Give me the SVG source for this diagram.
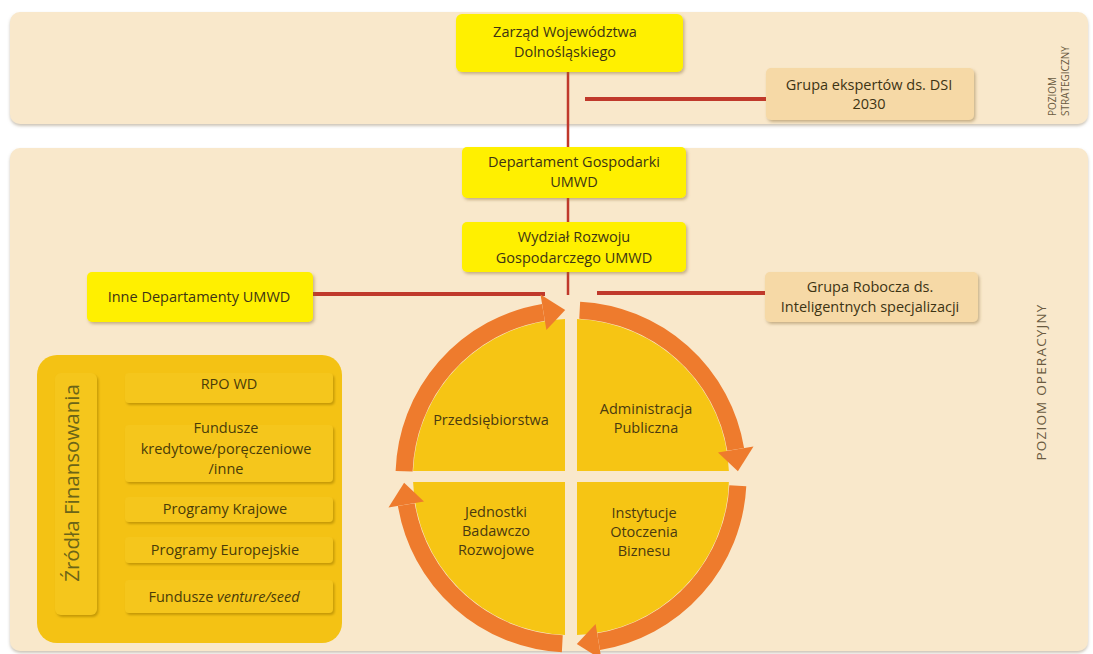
<svg xmlns="http://www.w3.org/2000/svg" width="1093" height="654" viewBox="0 0 1093 654">
<defs>
<filter id="sh" x="-10%" y="-10%" width="125%" height="130%">
<feDropShadow dx="1.5" dy="2" stdDeviation="1.5" flood-color="#8a6a30" flood-opacity="0.45"/>
</filter>
<filter id="shr" x="-10%" y="-20%" width="125%" height="150%">
<feDropShadow dx="1.5" dy="2" stdDeviation="1" flood-color="#b08800" flood-opacity="0.7"/>
</filter>
<filter id="psh" x="-2%" y="-5%" width="104%" height="110%">
<feDropShadow dx="0" dy="2" stdDeviation="1.5" flood-color="#9a8a70" flood-opacity="0.5"/>
</filter>
</defs>
<style>
.panel{fill:#f9e8cb;}
.ynode{fill:#fff000;filter:url(#sh);}
.bnode{fill:#f6d9a6;filter:url(#sh);}
.t{font-family:"Open Sans","Liberation Sans",sans-serif;font-size:14.5px;font-weight:500;fill:#3d3414;text-anchor:middle;}
.q{font-family:"Open Sans","Liberation Sans",sans-serif;font-size:14.5px;font-weight:500;fill:#4a3a10;text-anchor:middle;}
.r{font-family:"Open Sans","Liberation Sans",sans-serif;font-size:14.5px;font-weight:500;fill:#4a3c08;text-anchor:middle;}
.row{fill:#f5c61c;filter:url(#shr);}
.lvl{font-family:"Open Sans","Liberation Sans",sans-serif;fill:#6a5a40;}
.ln{stroke:#c0392b;fill:none;}
.ring{stroke:#ee7b2d;stroke-width:17;fill:none;}
.ah{fill:#ee7b2d;}
.quad{fill:#f6c514;}
</style>
<rect width="1093" height="654" fill="#ffffff"/>
<g id="panels">
<rect class="panel" x="10" y="12" width="1078" height="112" rx="10" filter="url(#psh)"/>
<rect class="panel" x="10" y="148" width="1078" height="503" rx="10" filter="url(#psh)"/>
<text class="lvl" font-size="10" text-anchor="start" transform="translate(1056,116) rotate(-90)">POZIOM</text>
<text class="lvl" font-size="10" text-anchor="start" transform="translate(1069,116) rotate(-90)">STRATEGICZNY</text>
<text class="lvl" font-size="13.5" letter-spacing="1.2" text-anchor="middle" transform="translate(1046,382) rotate(-90)">POZIOM OPERACYJNY</text>
</g>
<g id="connectors">
<line class="ln" x1="568" y1="72" x2="568" y2="147" stroke-width="2.5"/>
<line class="ln" x1="568" y1="198" x2="568" y2="222" stroke-width="2.5"/>
<line class="ln" x1="568" y1="272" x2="568" y2="295" stroke-width="2.5"/>
<line class="ln" x1="585" y1="99" x2="766" y2="99" stroke-width="4"/>
<line class="ln" x1="313" y1="294" x2="545" y2="294" stroke-width="4"/>
<line class="ln" x1="597" y1="293" x2="765" y2="293" stroke-width="4"/>
</g>
<g id="zarzad">
<rect class="ynode" x="456" y="14" width="227" height="58" rx="6"/>
<text class="t" x="565" y="37">Zarząd Województwa</text>
<text class="t" x="565" y="57">Dolnośląskiego</text>
</g>
<g id="grupa-ekspertow">
<rect class="bnode" x="766" y="68" width="208" height="52" rx="5"/>
<text class="t" x="869" y="90">Grupa ekspertów ds. DSI</text>
<text class="t" x="869" y="109">2030</text>
</g>
<g id="departament">
<rect class="ynode" x="462" y="147" width="224" height="51" rx="5"/>
<text class="t" x="574" y="167">Departament Gospodarki</text>
<text class="t" x="574" y="187">UMWD</text>
</g>
<g id="wydzial">
<rect class="ynode" x="462" y="222" width="224" height="50" rx="5"/>
<text class="t" x="574" y="242">Wydział Rozwoju</text>
<text class="t" x="574" y="263">Gospodarczego UMWD</text>
</g>
<g id="inne">
<rect class="ynode" x="87" y="272" width="226" height="50" rx="5"/>
<text class="t" x="199" y="302">Inne Departamenty UMWD</text>
</g>
<g id="grupa-robocza">
<rect class="bnode" x="765" y="272" width="213" height="50" rx="5"/>
<text class="t" x="870" y="292">Grupa Robocza  ds.</text>
<text class="t" x="870" y="312">Inteligentnych specjalizacji</text>
</g>
<g id="cycle">
<path class="quad" d="M565 471 L565 319.1 A158 158 0 0 0 413.1 471 Z"/>
<path class="quad" d="M577 471 L577 319.1 A158 158 0 0 1 728.9 471 Z"/>
<path class="quad" d="M565 482 L413.1 482 A158 158 0 0 0 565 634.9 Z"/>
<path class="quad" d="M577 482 L577 634.9 A158 158 0 0 0 728.9 482 Z"/>
<path class="ring" d="M404.1 471.2 A167 167 0 0 1 543.4 312.3"/>
<polygon class="ah" points="546.4,330 540.5,294.5 565.2,310.1"/>
<path class="ring" d="M579.7 310.2 A167 167 0 0 1 735.7 449.4"/>
<polygon class="ah" points="718,452.4 753.5,446.5 737.9,471.2"/>
<path class="ring" d="M737.8 485.7 A167 167 0 0 1 598.6 641.7"/>
<polygon class="ah" points="595.6,624 601.5,659.5 576.8,643.9"/>
<path class="ring" d="M562.3 643.8 A167 167 0 0 1 406.3 504.6"/>
<polygon class="ah" points="424,501.6 388.5,507.5 404.1,482.8"/>
<text class="q" x="491" y="425">Przedsiębiorstwa</text>
<text class="q" x="646" y="414">Administracja</text>
<text class="q" x="646" y="433">Publiczna</text>
<text class="q" x="496" y="517">Jednostki</text>
<text class="q" x="496" y="536">Badawczo</text>
<text class="q" x="496" y="555">Rozwojowe</text>
<text class="q" x="644" y="518">Instytucje</text>
<text class="q" x="644" y="537">Otoczenia</text>
<text class="q" x="644" y="556">Biznesu</text>
</g>
<g id="zrodla">
<rect x="37" y="355" width="305" height="288" rx="20" fill="#f4c214"/>
<rect class="row" x="55" y="373" width="42" height="242" rx="6"/>
<text font-family="'Open Sans','Liberation Sans',sans-serif" font-size="20.5" fill="#6b6418" text-anchor="middle" transform="translate(79,483) rotate(-90)">Źródła Finansowania</text>
<rect class="row" x="125" y="373" width="208" height="30" rx="4"/>
<text class="r" x="229" y="389">RPO WD</text>
<rect class="row" x="125" y="425" width="208" height="57" rx="4"/>
<text class="r" x="226" y="433">Fundusze</text>
<text class="r" x="226" y="454">kredytowe/poręczeniowe</text>
<text class="r" x="226" y="474">/inne</text>
<rect class="row" x="125" y="497" width="208" height="25" rx="4"/>
<text class="r" x="225" y="514">Programy Krajowe</text>
<rect class="row" x="125" y="537" width="208" height="26" rx="4"/>
<text class="r" x="225" y="555">Programy Europejskie</text>
<rect class="row" x="125" y="580" width="208" height="33" rx="4"/>
<text class="r" x="224" y="602">Fundusze <tspan font-style="italic">venture/seed</tspan></text>
</g>
</svg>
